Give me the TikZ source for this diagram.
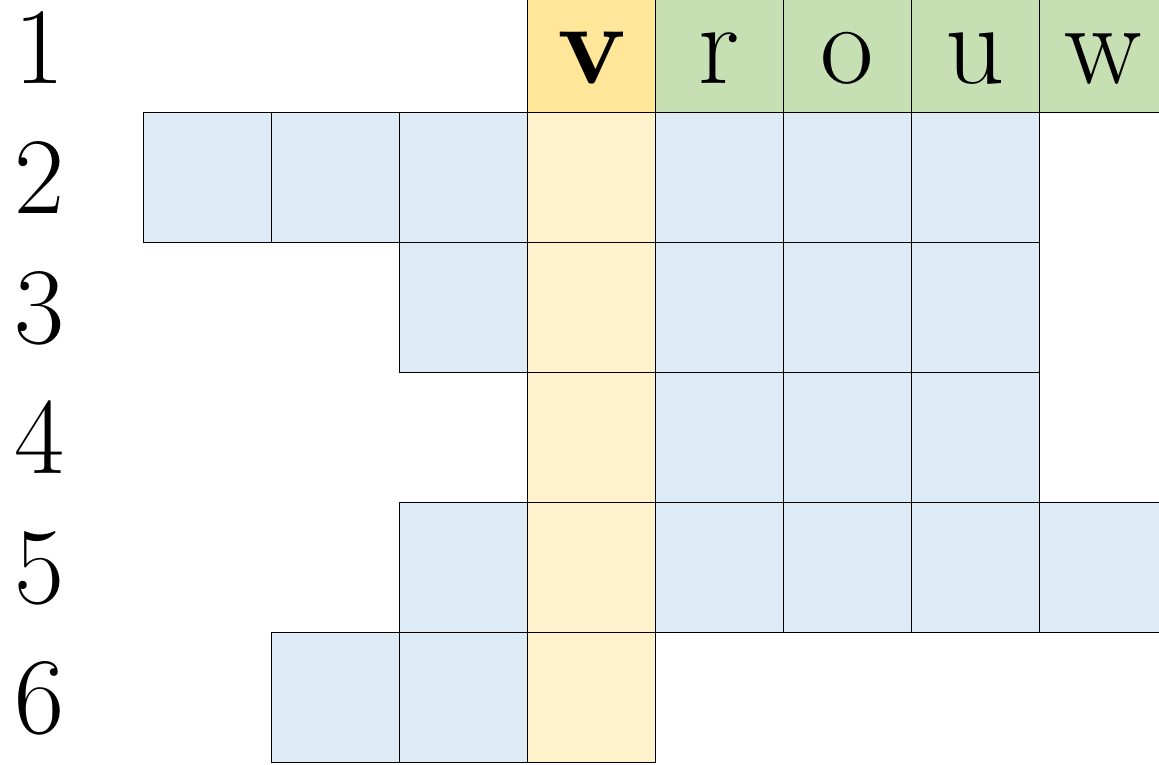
\documentclass[tikz,border=0pt]{standalone}
\usepackage{tikz}
\usepackage{xcolor}
\definecolor{cellblue}{HTML}{DDEBF7}
\definecolor{keyyellow}{HTML}{FFE699}
\definecolor{colyellow}{HTML}{FFF2CC}
\definecolor{wordgreen}{HTML}{C6E0B4}

\begin{document}
\begin{tikzpicture}[every node/.style={font=\fontsize{31}{31}\selectfont}]
\tikzstyle{cell}=[draw, line width=0.45pt, minimum width=1.28cm, minimum height=1.3cm, inner sep=0pt, text height=0.72cm, text depth=0cm, font=\fontsize{33}{33}\selectfont]
\tikzstyle{rownum}=[inner sep=0pt, text height=0.72cm, text depth=0cm]
\useasboundingbox (0,0) rectangle (11.59,-7.64);
\clip (0,0) rectangle (11.59,-7.64);
% row numbers
\foreach \i in {1,...,6}
  \node[rownum] (n\i) at (0.40,0.827-1.3*\i) {\i};
% empty cells: row/column/fill
\foreach \i/\j/\c in {2/1/cellblue, 2/2/cellblue, 2/3/cellblue, 2/4/colyellow, 2/5/cellblue, 2/6/cellblue, 2/7/cellblue,
                     3/3/cellblue, 3/4/colyellow, 3/5/cellblue, 3/6/cellblue, 3/7/cellblue,
                     4/4/colyellow, 4/5/cellblue, 4/6/cellblue, 4/7/cellblue,
                     5/3/cellblue, 5/4/colyellow, 5/5/cellblue, 5/6/cellblue, 5/7/cellblue, 5/8/cellblue,
                     6/2/cellblue, 6/3/cellblue, 6/4/colyellow}
  \node[cell, fill=\c] (c\i\j) at (0.795+1.28*\j,0.827-1.3*\i) {};
% top row with the word
\node[cell, fill=keyyellow] (c14) at (0.795+1.28*4,0.827-1.3) {\textbf{v}};
\foreach \j/\l in {5/r, 6/o, 7/u, 8/w}
  \node[cell, fill=wordgreen] (c1\j) at (0.795+1.28*\j,0.827-1.3) {\l};
\end{tikzpicture}
\end{document}
